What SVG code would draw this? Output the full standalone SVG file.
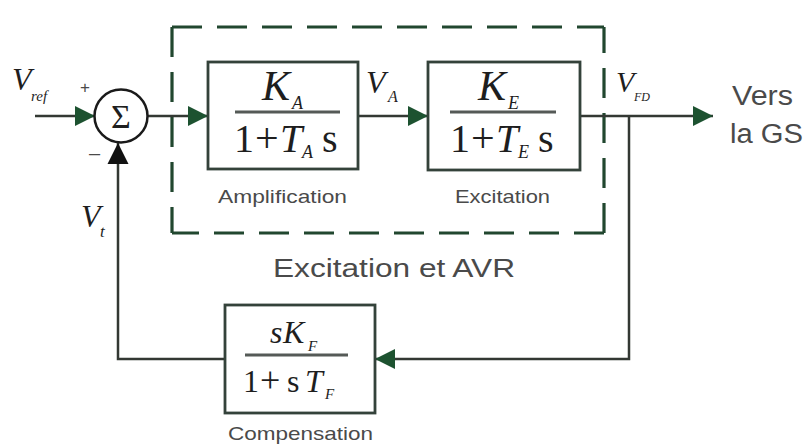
<svg xmlns="http://www.w3.org/2000/svg" width="807" height="445" viewBox="0 0 807 445">
<style>
.bg{fill:#ffffff}
.wire{fill:none;stroke:#333833;stroke-width:2.5}
.box{fill:#ffffff;stroke:#34423a;stroke-width:2.8}
.frac{stroke:#555a57;stroke-width:3}
.dash{fill:none;stroke:#21472f;stroke-width:3.2;stroke-dasharray:30 15}
.m{font-family:"Liberation Serif","Times New Roman",serif;fill:#1e1e1e}
.i{font-style:italic}
.lbl{font-family:"Liberation Sans",Arial,sans-serif;fill:#4a4a4a}
</style>
<defs>
<marker id="ag" viewBox="0 0 10 10" refX="10" refY="5" markerWidth="23" markerHeight="20" markerUnits="userSpaceOnUse" orient="auto">
<path d="M0,0 L10,5 L0,10 z" fill="#1d5230"/>
</marker>
<marker id="ab" viewBox="0 0 10 10" refX="10" refY="5" markerWidth="21" markerHeight="22" markerUnits="userSpaceOnUse" orient="auto">
<path d="M0,0 L10,5 L0,10 z" fill="#111111"/>
</marker>
</defs>
<rect class="bg" x="0" y="0" width="807" height="445"/>

<g id="avr-frame">
<path class="dash" d="M172,27 H604" stroke-width="3.8"/>
<path class="dash" d="M604,233 V27"/>
<path class="dash" d="M604,233 H172" stroke-width="2.8"/>
<path class="dash" d="M172,27 V233"/>
<text class="lbl" x="273" y="277" font-size="26" textLength="242" lengthAdjust="spacingAndGlyphs">Excitation et AVR</text>
</g>

<g id="connectors">
<path class="wire" d="M35,116 H95" marker-end="url(#ag)"/>
<path class="wire" d="M148,116 H208" marker-end="url(#ag)"/>
<path class="wire" d="M358,116 H428" marker-end="url(#ag)"/>
<path class="wire" d="M580,116 H713" marker-end="url(#ag)"/>
<path class="wire" d="M629,116 V359 H375" marker-end="url(#ag)"/>
<path class="wire" d="M225,359 H118 V143" marker-end="url(#ab)"/>
</g>

<g id="sum">
<circle cx="121" cy="116" r="26.5" fill="#ffffff" stroke="#1a1a1a" stroke-width="2.5"/>
<text class="m" x="121" y="128" font-size="34" text-anchor="middle">Σ</text>
<text class="lbl" x="80" y="93" font-size="17" fill="#333">+</text>
<text class="lbl" x="89" y="160" font-size="20" fill="#333">–</text>
</g>

<g id="vref">
<text class="m i" x="12" y="90" font-size="32" fill="#555">V</text>
<text class="m i" x="31" y="101" font-size="15" fill="#777">ref</text>
</g>

<g id="amplification">
<rect class="box" x="208" y="62" width="150" height="107"/>
<text class="m i" x="262" y="100" font-size="42">K</text>
<text class="m i" x="292" y="109" font-size="18">A</text>
<line class="frac" x1="235" y1="112" x2="340" y2="112"/>
<text class="m" x="234" y="152" font-size="40">1</text>
<text class="m" x="255" y="152" font-size="42">+</text>
<text class="m i" x="280" y="152" font-size="40">T</text>
<text class="m i" x="302" y="158" font-size="18">A</text>
<text class="m" x="322" y="152" font-size="40">s</text>
<text class="lbl" x="218" y="203" font-size="19" textLength="129" lengthAdjust="spacingAndGlyphs">Amplification</text>
</g>

<g id="va">
<text class="m i" x="366" y="93" font-size="32">V</text>
<text class="m i" x="388" y="102" font-size="16">A</text>
</g>

<g id="excitation">
<rect class="box" x="428" y="62" width="152" height="108"/>
<text class="m i" x="478" y="100" font-size="42">K</text>
<text class="m i" x="508" y="109" font-size="18">E</text>
<line class="frac" x1="450" y1="112" x2="556" y2="112"/>
<text class="m" x="450" y="152" font-size="40">1</text>
<text class="m" x="471" y="152" font-size="42">+</text>
<text class="m i" x="496" y="152" font-size="40">T</text>
<text class="m i" x="518" y="158" font-size="18">E</text>
<text class="m" x="538" y="152" font-size="40">s</text>
<text class="lbl" x="455" y="203" font-size="19" textLength="95" lengthAdjust="spacingAndGlyphs">Excitation</text>
</g>

<g id="vfd">
<text class="m i" x="616" y="92" font-size="30">V</text>
<text class="m i" x="634" y="101" font-size="12">FD</text>
</g>

<g id="vers-gs">
<text class="lbl" x="732" y="105" font-size="27" textLength="61" lengthAdjust="spacingAndGlyphs">Vers</text>
<text class="lbl" x="730" y="143" font-size="27" textLength="73" lengthAdjust="spacingAndGlyphs">la GS</text>
</g>

<g id="vt">
<text class="m i" x="81" y="227" font-size="32" fill="#555">V</text>
<text class="m i" x="100" y="237" font-size="17" fill="#555">t</text>
</g>

<g id="compensation">
<rect class="box" x="225" y="305" width="150" height="108"/>
<text class="m i" x="270" y="343" font-size="32">s</text>
<text class="m i" x="283" y="343" font-size="32">K</text>
<text class="m i" x="308" y="351" font-size="15">F</text>
<line class="frac" x1="245" y1="355" x2="348" y2="355"/>
<text class="m" x="243" y="392" font-size="32">1</text>
<text class="m" x="260" y="392" font-size="36">+</text>
<text class="m" x="287" y="392" font-size="32">s</text>
<text class="m i" x="305" y="392" font-size="32">T</text>
<text class="m i" x="325" y="399" font-size="15">F</text>
<text class="lbl" x="228" y="440" font-size="19" textLength="145" lengthAdjust="spacingAndGlyphs">Compensation</text>
</g>
</svg>
